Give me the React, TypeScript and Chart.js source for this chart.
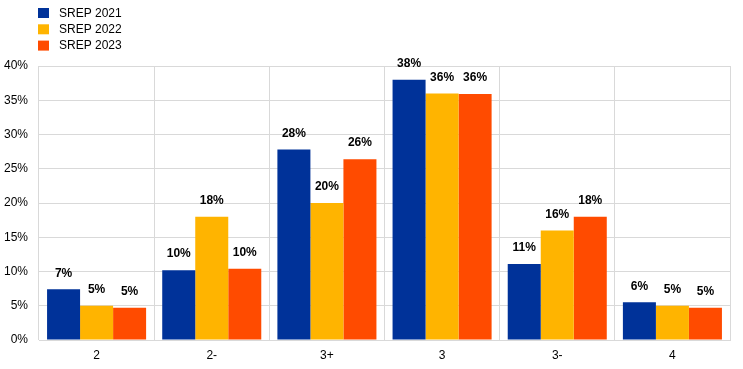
import React, { useEffect, useRef } from "react";
import { Chart, registerables } from "chart.js";

Chart.register(...registerables);

const categories = ["2", "2-", "3+", "3", "3-", "4"];
const srep2021 = [7.4, 10.2, 27.8, 38.0, 11.1, 5.5];
const srep2022 = [5.0, 18.0, 20.0, 36.0, 16.0, 5.0];
const srep2023 = [4.7, 10.4, 26.4, 35.9, 18.0, 4.7];
const seriesNames = ["SREP 2021", "SREP 2022", "SREP 2023"];
const seriesColors = ["#003299", "#FFB400", "#FF4B00"];
const yTicks = [0, 5, 10, 15, 20, 25, 30, 35, 40];

const FONT = "Arial, 'Liberation Sans', sans-serif";

const valueLabels = {
  id: "valueLabels",
  afterDatasetsDraw(chart: any) {
    const ctx = chart.ctx;
    ctx.save();
    ctx.font = `bold 12px ${FONT}`;
    ctx.fillStyle = "#000";
    ctx.textAlign = "center";
    ctx.textBaseline = "middle";
    chart.data.datasets.forEach((ds: any, i: number) => {
      const meta = chart.getDatasetMeta(i);
      meta.data.forEach((bar: any, j: number) => {
        const v = ds.data[j];
        ctx.fillText(Math.round(v) + "%", bar.x, bar.y - 16);
      });
    });
    ctx.restore();
  },
};

const customLegend = {
  id: "customLegend",
  afterDraw(chart: any) {
    const ctx = chart.ctx;
    ctx.save();
    ctx.font = `12px ${FONT}`;
    ctx.textBaseline = "middle";
    ctx.textAlign = "left";
    chart.data.datasets.forEach((ds: any, i: number) => {
      const top = 8 + i * 16.3;
      ctx.fillStyle = ds.backgroundColor;
      ctx.fillRect(38, top, 11, 10);
      ctx.fillStyle = "#000";
      ctx.fillText(ds.label, 59, top + 5.5);
    });
    ctx.restore();
  },
};

export default function App() {
  const ref = useRef<HTMLCanvasElement>(null);
  useEffect(() => {
    document.body.style.margin = "0";
    const chart = new Chart(ref.current!, {
      type: "bar",
      data: {
        labels: categories,
        datasets: [srep2021, srep2022, srep2023].map((d, i) => ({
          label: seriesNames[i],
          data: d,
          backgroundColor: seriesColors[i],
          borderColor: seriesColors[i],
          borderWidth: 0,
          categoryPercentage: 0.86,
          barPercentage: 1.0,
        })),
      },
      options: {
        animation: false,
        responsive: false,
        devicePixelRatio: 1,
        layout: { padding: { top: 66, right: 13, left: 0, bottom: 0 } },
        plugins: {
          legend: { display: false },
          tooltip: { enabled: false },
        },
        scales: {
          x: {
            grid: { offset: true, color: "#d9d9d9", drawTicks: false, lineWidth: 1 },
            border: { color: "#d9d9d9" },
            ticks: { font: { family: FONT, size: 12 }, color: "#000", padding: 8 },
            afterFit: (s: any) => { s.height = 29; },
          },
          y: {
            min: 0,
            max: 40,
            grid: { color: "#d9d9d9", drawTicks: false },
            border: { display: false },
            afterBuildTicks: (s: any) => { s.ticks = yTicks.map((v) => ({ value: v })); },
            ticks: {
              font: { family: FONT, size: 12 },
              color: "#000",
              padding: 11,
              callback: (v: any) => v + "%",
            },
            afterFit: (s: any) => { s.width = 39; },
          },
        },
      },
      plugins: [valueLabels, customLegend],
    });
    return () => chart.destroy();
  }, []);
  return <canvas ref={ref} width={743} height={369} style={{ display: "block" }} />;
}
